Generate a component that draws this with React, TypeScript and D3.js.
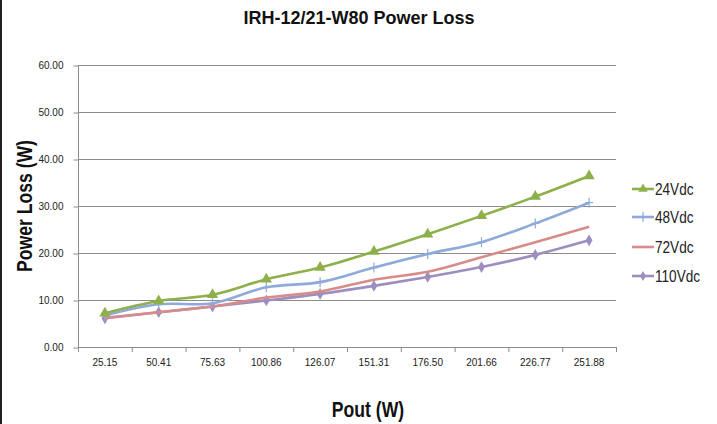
import React, { useRef, useEffect } from "react";
import * as d3 from "d3";

const categories = ["25.15", "50.41", "75.63", "100.86", "126.07", "151.31", "176.50", "201.66", "226.77", "251.88"];
const yTicks = [0, 10, 20, 30, 40, 50, 60];

const v24 = [7.2, 9.8, 11.1, 14.4, 16.9, 20.3, 24.0, 27.9, 32.0, 36.4];
const v48 = [6.7, 9.1, 9.3, 12.7, 13.8, 16.9, 19.8, 22.3, 26.3, 30.7];
const v72 = [6.2, 7.4, 8.6, 10.5, 11.8, 14.3, 16.0, 19.1, 22.3, 25.6];
const v110 = [6.1, 7.4, 8.6, 9.9, 11.3, 13.0, 14.9, 17.0, 19.6, 22.7];

const seriesNames = ["24Vdc", "48Vdc", "72Vdc", "110Vdc"];

const App = () => {
  const ref = useRef<SVGSVGElement>(null);

  useEffect(() => {
    const svg = d3.select(ref.current);
    svg.selectAll("*").remove();

    const W = 717, H = 424;
    const left = 78, right = 616, top = 65, bottom = 347;
    const font = "'Liberation Sans', Arial, sans-serif";

    svg.append("rect").attr("width", W).attr("height", H).attr("fill", "#fff");
    svg.append("rect").attr("x", 0).attr("y", 0).attr("width", 2).attr("height", H).attr("fill", "#231f20");

    const x = d3.scaleBand().domain(categories).range([left, right]);
    const y = d3.scaleLinear().domain([0, 60]).range([bottom, top]);

    // gridlines
    svg.append("g")
      .selectAll("line")
      .data(yTicks.slice(1))
      .enter()
      .append("line")
      .attr("x1", left)
      .attr("x2", right)
      .attr("y1", (d) => y(d) + 0.5)
      .attr("y2", (d) => y(d) + 0.5)
      .attr("stroke", "#8c8c8c")
      .attr("stroke-width", 1);

    // y axis
    const yAxis = svg.append("g")
      .attr("transform", `translate(${left + 0.5},0)`)
      .call(d3.axisLeft(y).tickValues(yTicks).tickFormat(d3.format(".2f")).tickSize(5).tickPadding(10));
    yAxis.select(".domain").attr("stroke", "#8c8c8c").attr("d", `M0,${top}V${bottom}`);
    yAxis.selectAll(".tick line").attr("stroke", "#8c8c8c").attr("transform", "translate(0,0.5)");
    yAxis.selectAll("text").style("font-family", font).style("font-size", "10px").attr("fill", "#222");

    // x axis
    const xAxis = svg.append("g")
      .attr("transform", `translate(0,${bottom + 0.5})`)
      .call(d3.axisBottom(x).tickSize(0).tickPadding(11));
    xAxis.select(".domain").attr("stroke", "#8c8c8c").attr("d", `M${left},0H${right}`);
    xAxis.selectAll("text").style("font-family", font).style("font-size", "10px").attr("fill", "#222");
    svg.append("g")
      .selectAll("line")
      .data(d3.range(categories.length + 1))
      .enter()
      .append("line")
      .attr("x1", (i) => left + i * x.bandwidth() + 0.5)
      .attr("x2", (i) => left + i * x.bandwidth() + 0.5)
      .attr("y1", bottom)
      .attr("y2", bottom + 5)
      .attr("stroke", "#8c8c8c");

    const series = [
      { name: seriesNames[0], values: v24, color: "#8db04b", marker: "triangle" },
      { name: seriesNames[1], values: v48, color: "#8eaadb", marker: "plus" },
      { name: seriesNames[2], values: v72, color: "#d88c8a", marker: "none" },
      { name: seriesNames[3], values: v110, color: "#9e8ec0", marker: "diamond" },
    ];

    const cx = (i: number) => (x(categories[i]) as number) + x.bandwidth() / 2;

    const line = d3.line<number>()
      .x((_, i) => cx(i))
      .y((d) => y(d))
      .curve(d3.curveCatmullRom.alpha(0.5));

    const drawMarker = (g: any, type: string, px: number, py: number, color: string, s = 1) => {
      if (type === "triangle") {
        g.append("path")
          .attr("d", d3.symbol(d3.symbolTriangle, 55 * s)())
          .attr("transform", `translate(${px},${py})`)
          .attr("fill", color);
      } else if (type === "diamond") {
        g.append("path")
          .attr("d", d3.symbol(d3.symbolDiamond, 40 * s)())
          .attr("transform", `translate(${px},${py})`)
          .attr("fill", color);
      } else if (type === "plus") {
        g.append("path")
          .attr("d", `M${px - 4},${py}H${px + 4}M${px},${py - 5}V${py + 5}`)
          .attr("stroke", color)
          .attr("stroke-width", 1.2);
      }
    };

    // draw in reverse so 24Vdc ends on top
    [...series].reverse().forEach((s) => {
      const g = svg.append("g");
      g.append("path")
        .attr("d", line(s.values))
        .attr("fill", "none")
        .attr("stroke", s.color)
        .attr("stroke-width", 2.6);
      s.values.forEach((v, i) => drawMarker(g, s.marker, cx(i), y(v), s.color));
    });

    // legend
    const legendY = [189, 217, 247, 276];
    const legend = svg.append("g");
    series.forEach((s, i) => {
      const ly = legendY[i];
      legend.append("line")
        .attr("x1", 632).attr("x2", 654)
        .attr("y1", ly).attr("y2", ly)
        .attr("stroke", s.color).attr("stroke-width", 2.6);
      drawMarker(legend, s.marker, 643, ly, s.color, 0.7);
      legend.append("text")
        .attr("transform", `translate(655,${ly + 6}) scale(0.85,1)`)
        .text(s.name)
        .style("font-family", font)
        .style("font-size", "16px")
        .attr("fill", "#222");
    });

    // titles
    svg.append("text")
      .attr("transform", "translate(359,24)")
      .attr("text-anchor", "middle")
      .text("IRH-12/21-W80 Power Loss")
      .style("font-family", font)
      .style("font-weight", "bold")
      .style("font-size", "18px")
      .attr("fill", "#111");

    svg.append("text")
      .attr("transform", "translate(32,206) rotate(-90) scale(0.8,1)")
      .attr("text-anchor", "middle")
      .text("Power Loss (W)")
      .style("font-family", font)
      .style("font-weight", "bold")
      .style("font-size", "22px")
      .attr("fill", "#111");

    svg.append("text")
      .attr("transform", "translate(368,417) scale(0.8,1)")
      .attr("text-anchor", "middle")
      .text("Pout (W)")
      .style("font-family", font)
      .style("font-weight", "bold")
      .style("font-size", "22px")
      .attr("fill", "#111");
  }, []);

  return (
    <svg
      ref={ref}
      width={717}
      height={424}
      style={{ position: "absolute", left: 0, top: 0, display: "block" }}
    />
  );
};

export default App;
